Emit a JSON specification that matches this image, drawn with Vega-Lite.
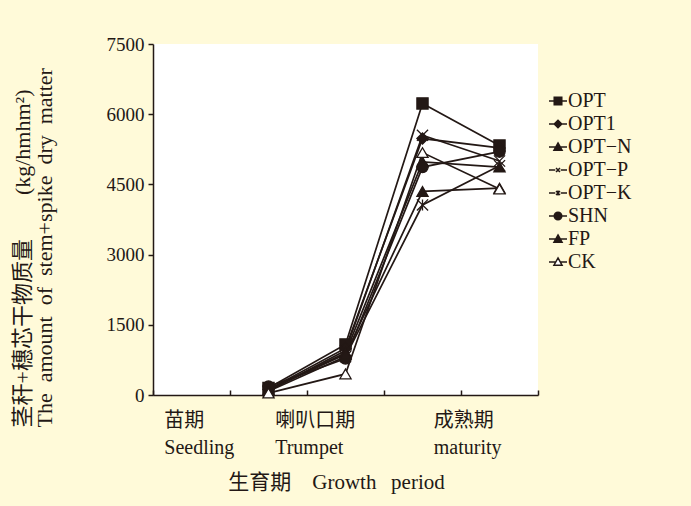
{
  "$schema": "https://vega.github.io/schema/vega-lite/v6.json",
  "width": 385,
  "height": 351,
  "autosize": {"type": "none"},
  "padding": {"left": 153, "top": 44, "right": 153, "bottom": 111},
  "background": "#fffad9",
  "config": {
    "font": "Liberation Serif, Noto Sans CJK SC",
    "view": {"fill": "white", "stroke": null},
    "axis": {
      "domainColor": "#231815",
      "domainWidth": 1.5,
      "tickColor": "#231815",
      "tickWidth": 1.5,
      "labelColor": "#231815",
      "titleColor": "#231815",
      "labelFont": "Liberation Serif, Noto Sans CJK SC",
      "titleFont": "Liberation Serif, Noto Sans CJK SC",
      "titleFontWeight": "normal",
      "grid": false
    },
    "legend": {
      "labelFont": "Liberation Serif, Noto Sans CJK SC",
      "labelColor": "#231815"
    }
  },
  "data": {
    "values": [
      {"series": "OPT", "stage": 1.5, "value": 150},
      {"series": "OPT", "stage": 2.5, "value": 1080},
      {"series": "OPT", "stage": 3.5, "value": 6230},
      {"series": "OPT", "stage": 4.5, "value": 5330},
      {"series": "OPT1", "stage": 1.5, "value": 120},
      {"series": "OPT1", "stage": 2.5, "value": 1000},
      {"series": "OPT1", "stage": 3.5, "value": 5480},
      {"series": "OPT1", "stage": 4.5, "value": 5280},
      {"series": "OPT−N", "stage": 1.5, "value": 100},
      {"series": "OPT−N", "stage": 2.5, "value": 900},
      {"series": "OPT−N", "stage": 3.5, "value": 4980},
      {"series": "OPT−N", "stage": 4.5, "value": 4870},
      {"series": "OPT−P", "stage": 1.5, "value": 90},
      {"series": "OPT−P", "stage": 2.5, "value": 950},
      {"series": "OPT−P", "stage": 3.5, "value": 5550},
      {"series": "OPT−P", "stage": 4.5, "value": 5000},
      {"series": "OPT−K", "stage": 1.5, "value": 80},
      {"series": "OPT−K", "stage": 2.5, "value": 820},
      {"series": "OPT−K", "stage": 3.5, "value": 4060},
      {"series": "OPT−K", "stage": 4.5, "value": 4900},
      {"series": "SHN", "stage": 1.5, "value": 180},
      {"series": "SHN", "stage": 2.5, "value": 780},
      {"series": "SHN", "stage": 3.5, "value": 4870},
      {"series": "SHN", "stage": 4.5, "value": 5200},
      {"series": "FP", "stage": 1.5, "value": 110},
      {"series": "FP", "stage": 2.5, "value": 870},
      {"series": "FP", "stage": 3.5, "value": 4350},
      {"series": "FP", "stage": 4.5, "value": 4420},
      {"series": "CK", "stage": 1.5, "value": 40},
      {"series": "CK", "stage": 2.5, "value": 450},
      {"series": "CK", "stage": 3.5, "value": 5180},
      {"series": "CK", "stage": 4.5, "value": 4400}
    ]
  },
  "layer": [
    {
      "mark": {"type": "line", "color": "#231815", "strokeWidth": 1.7},
      "encoding": {
        "x": {
          "field": "stage",
          "type": "quantitative",
          "scale": {"domain": [0, 5], "nice": false, "zero": false},
          "axis": {
            "values": [0, 0.14, 1, 1.58, 2, 3, 3.64, 4, 5],
            "title": "生育期\u3000Growth\u2002\u2009period",
            "titleFontSize": 21,
            "titlePadding": 14,
            "titleX": 183,
            "labelExpr": "datum.value == 0.14 ? ['苗期', 'Seedling'] : datum.value == 1.58 ? ['喇叭口期', 'Trumpet'] : datum.value == 3.64 ? ['成熟期', 'maturity'] : ''",
            "labelAlign": "left",
            "labelBaseline": "top",
            "labelFontSize": 20,
            "labelLineHeight": 27,
            "labelPadding": 20,
            "labelFlush": false,
            "labelOverlap": false,
            "labelBound": false,
            "tickSize": -5,
            "tickOpacity": {"condition": {"test": "datum.value % 1 == 0", "value": 1}, "value": 0}
          }
        },
        "y": {
          "field": "value",
          "type": "quantitative",
          "scale": {"domain": [0, 7500], "nice": false},
          "axis": {
            "values": [0, 1500, 3000, 4500, 6000, 7500],
            "format": "d",
            "title": ["茎秆+穗芯干物质量\u3000\u3000(kg/hmhm²)", "The\u2002amount\u2002of\u2002stem+spike\u2002dry\u2002matter"],
            "titleFontSize": 22,
            "titleLineHeight": 22,
            "titlePadding": 50,
            "titleAnchor": "start",
            "titleAlign": "left",
            "titleY": 383,
            "labelFontSize": 19,
            "labelPadding": 4,
            "tickSize": 5
          }
        },
        "detail": {"field": "series"}
      }
    },
    {
      "mark": {"type": "point", "filled": true, "size": 125, "stroke": "#231815", "strokeWidth": 1.3, "opacity": 1},
      "encoding": {
        "x": {"field": "stage", "type": "quantitative"},
        "y": {"field": "value", "type": "quantitative"},
        "shape": {
          "field": "series",
          "type": "nominal",
          "scale": {
            "domain": ["OPT", "OPT1", "OPT−N", "OPT−P", "OPT−K", "SHN", "FP", "CK"],
            "range": ["square", "diamond", "triangle-up", "M-1,-1L1,1M-1,1L1,-1", "M-1,-1L1,1M-1,1L1,-1M0,-1V1", "circle", "triangle-up", "triangle-up"]
          },
          "legend": null
        },
        "fill": {
          "field": "series",
          "type": "nominal",
          "scale": {
            "domain": ["OPT", "OPT1", "OPT−N", "OPT−P", "OPT−K", "SHN", "FP", "CK"],
            "range": ["#231815", "#231815", "#231815", "#231815", "#231815", "#231815", "#231815", "white"]
          },
          "legend": null
        }
      }
    },
    {
      "transform": [{"filter": "datum.stage == 1.5"}],
      "mark": {"type": "point", "filled": true, "size": 324, "stroke": "#231815", "strokeWidth": 1.5, "opacity": 1, "clip": true},
      "encoding": {
        "x": {"field": "stage", "type": "quantitative"},
        "y": {"datum": -3000},
        "shape": {
          "field": "series",
          "type": "nominal",
          "scale": {
            "domain": ["OPT", "OPT1", "OPT−N", "OPT−P", "OPT−K", "SHN", "FP", "CK"],
            "range": [
              "M-1,0H1M-0.42,-0.42H0.42V0.42H-0.42Z",
              "M-1,0H1M0,-0.42L0.42,0L0,0.42L-0.42,0Z",
              "M-1,0H1M0,-0.45L0.45,0.36H-0.45Z",
              "M-1,0H-0.3M0.3,0H1M-0.22,-0.22L0.22,0.22M-0.22,0.22L0.22,-0.22",
              "M-1,0H-0.3M0.3,0H1M-0.22,-0.22L0.22,0.22M-0.22,0.22L0.22,-0.22M0,-0.28V0.28",
              "M-1,0H1M-0.42,0A0.42,0.42,0,1,0,0.42,0A0.42,0.42,0,1,0,-0.42,0Z",
              "M-1,0H1M0,-0.45L0.45,0.36H-0.45Z",
              "M-1,0H-0.26M0.26,0H1M0,-0.45L0.45,0.36H-0.45Z"
            ]
          },
          "legend": {
            "title": null,
            "orient": "none",
            "legendX": 395,
            "legendY": 47,
            "symbolSize": 324,
            "labelFontSize": 20,
            "labelOffset": 0,
            "rowPadding": 3,
            "symbolStrokeWidth": 1.5
          }
        },
        "fill": {
          "field": "series",
          "type": "nominal",
          "scale": {
            "domain": ["OPT", "OPT1", "OPT−N", "OPT−P", "OPT−K", "SHN", "FP", "CK"],
            "range": ["#231815", "#231815", "#231815", "white", "white", "#231815", "#231815", "white"]
          },
          "legend": {
            "title": null,
            "orient": "none",
            "legendX": 395,
            "legendY": 47,
            "symbolSize": 324,
            "labelFontSize": 20,
            "labelOffset": 0,
            "rowPadding": 3,
            "symbolStrokeWidth": 1.5
          }
        }
      }
    }
  ],
  "resolve": {
    "scale": {"shape": "independent", "fill": "independent"},
    "legend": {"shape": "independent", "fill": "independent"}
  }
}
